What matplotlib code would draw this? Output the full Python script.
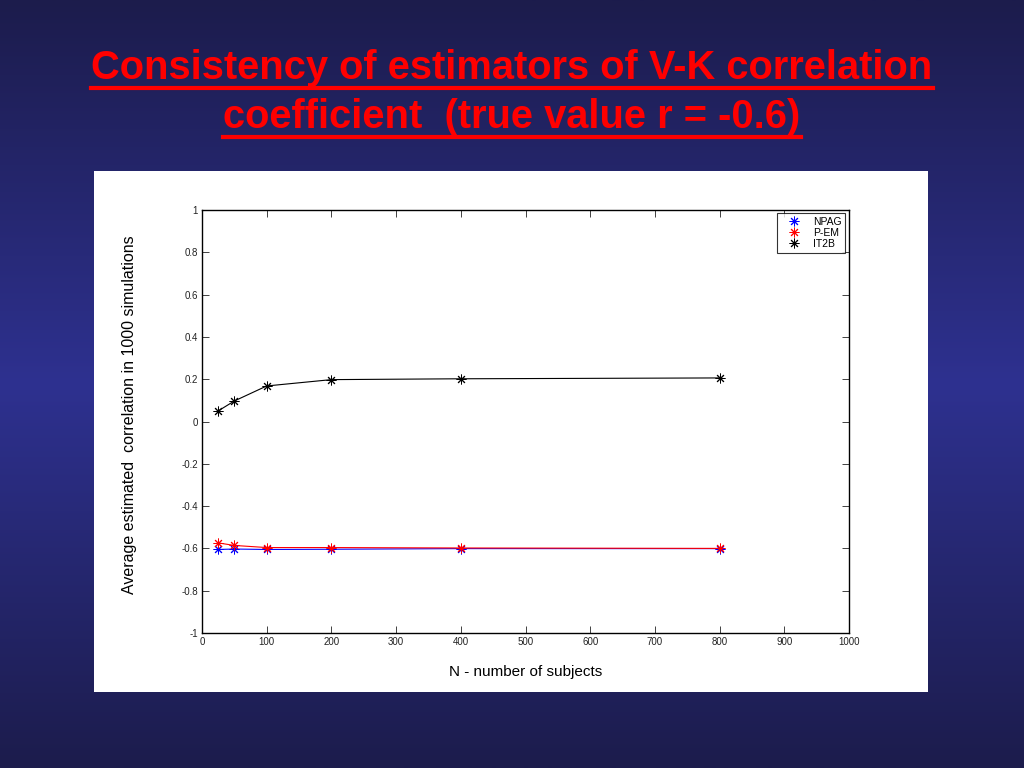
#!/usr/bin/env python3
# slide: consistency of V-K correlation estimators
import numpy as np
import matplotlib
matplotlib.use("Agg")
import matplotlib.pyplot as plt
from matplotlib.lines import Line2D

# data
n_subjects = [25, 50, 100, 200, 400, 800]
npag = [-0.605, -0.603, -0.605, -0.604, -0.601, -0.601]
pem = [-0.574, -0.586, -0.596, -0.596, -0.598, -0.600]
it2b = [0.050, 0.097, 0.168, 0.198, 0.202, 0.206]

series_names = ["NPAG", "P-EM", "IT2B"]
series_colors = ["#0000ff", "#ff0000", "#000000"]

xticks = list(range(0, 1001, 100))
yticks = [-1, -0.8, -0.6, -0.4, -0.2, 0, 0.2, 0.4, 0.6, 0.8, 1]
ytick_labels = ["-1", "-0.8", "-0.6", "-0.4", "-0.2", "0", "0.2", "0.4", "0.6", "0.8", "1"]

title_lines = ["Consistency of estimators of V-K correlation",
               "coefficient  (true value r = -0.6)"]

plt.rcParams["font.family"] = ["Liberation Sans", "DejaVu Sans"]

W, H = 1024, 768
fig = plt.figure(figsize=(W / 100, H / 100), dpi=100)

# background gradient (dark navy -> blue -> dark navy)
bg = fig.add_axes([0, 0, 1, 1])
t = np.linspace(0, 1, 256)
top = np.array([0x1c, 0x1c, 0x4c]) / 255
mid = np.array([0x2e, 0x31, 0x90]) / 255
w = 1 - np.abs(t - 0.5) * 2
grad = top[None, :] * (1 - w[:, None]) + mid[None, :] * w[:, None]
bg.imshow(grad[:, None, :], aspect="auto", extent=[0, 1, 0, 1])
bg.set_xlim(0, 1)
bg.set_ylim(0, 1)
bg.axis("off")

# white panel
panel = plt.Rectangle((94 / W, 1 - 692 / H), (928 - 94) / W, (692 - 171) / H,
                      transform=fig.transFigure, facecolor="white", edgecolor="none", zorder=1)
fig.add_artist(panel)

# title
title_y = [68, 117]
title_txt = []
for line, yy in zip(title_lines, title_y):
    tt = fig.text(0.5, 1 - yy / H, line, ha="center", va="center", color="#ff0000",
                  fontsize=28.7, fontweight="bold")
    title_txt.append(tt)

# main axes
ax = fig.add_axes([202 / W, 1 - 633 / H, (849 - 202) / W, (633 - 210) / H])
ax.set_zorder(2)
mk = (8, 2, 0)
for ys, name, c in zip([npag, pem, it2b], series_names, series_colors):
    ax.plot(n_subjects, ys, color=c, marker=mk, markersize=7, mew=0.7, lw=0.8, label=name)

ax.set_xlim(0, 1000)
ax.set_ylim(-1, 1)
ax.set_xticks(xticks)
ax.set_yticks(yticks)
ax.set_yticklabels(ytick_labels)
ax.tick_params(direction="in", length=5, width=0.6, labelsize=7, top=True, right=True,
               pad=3, colors="#222222")
for s in ax.spines.values():
    s.set_linewidth(1.0)
ax.set_xlabel("N - number of subjects", fontsize=11, labelpad=13)
ax.set_ylabel("Average estimated  correlation in 1000 simulations", fontsize=11.5)
ax.yaxis.set_label_coords(-0.100, 0.515)

handles = [Line2D([], [], color=c, marker=mk, markersize=7, mew=0.7, ls="none")
           for c in series_colors]
leg = ax.legend(handles, series_names, loc="upper right", fontsize=7.5, frameon=True,
                fancybox=False, edgecolor="black", handlelength=2.6, handletextpad=0.5,
                borderpad=0.35, labelspacing=0.12, borderaxespad=0,
                bbox_to_anchor=(0.994, 0.993))
leg.get_frame().set_linewidth(0.8)

# underline the title
fig.canvas.draw()
r = fig.canvas.get_renderer()
for tt in title_txt:
    bb = tt.get_window_extent(renderer=r)
    yline = (bb.y0 - 0.5) / H
    fig.add_artist(plt.Line2D([bb.x0 / W, bb.x1 / W], [yline, yline],
                              transform=fig.transFigure, color="#ff0000", lw=3))

fig.savefig("out.png", dpi=100)
